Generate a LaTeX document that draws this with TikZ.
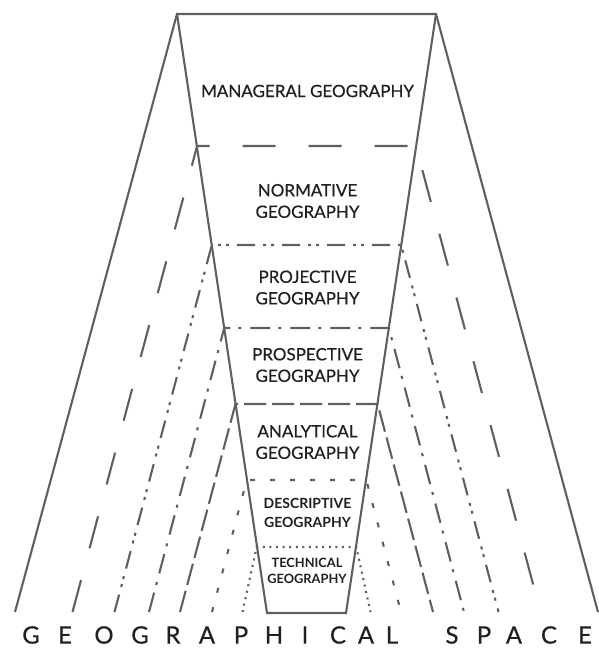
\documentclass[tikz,border=0pt]{standalone}
\usepackage{fontspec}
\setmainfont{Lato}
\newfontfamily\tagfont{Lato}[FakeBold=0.5]
\usepackage{xcolor}
\usetikzlibrary{calc}

\definecolor{linegray}{HTML}{5F5F5F}
\definecolor{textgray}{HTML}{231F20}

\tikzset{
	level/.style={draw=linegray, line width=2.1pt, line join=miter},
	managerial/.style={level},
	normative/.style={level, dash pattern=on 33pt off 33pt},
	projective/.style={level, dash pattern=on 18pt off 8pt on 3pt off 5pt on 3pt off 8pt},
	prospective/.style={level, dash pattern=on 20pt off 8pt on 3pt off 9pt},
	analytical/.style={level, dash pattern=on 22pt off 6pt},
	descriptive/.style={level, dash pattern=on 5pt off 15pt},
	technical/.style={level, dash pattern=on 2pt off 4.6pt},
	tag/.style={text=textgray, align=center, font=\tagfont\fontsize{17}{21.5}\selectfont, inner sep=0pt},
	smalltag/.style={tag, font=\bfseries\fontsize{14}{19.5}\selectfont},
	letter/.style={text=textgray, font=\tagfont\fontsize{24}{24}\selectfont, inner sep=0pt, anchor=center}
}

\begin{document}
\begin{tikzpicture}[x=1pt, y=-1pt]
	\useasboundingbox (0,0) rectangle (599,648);

	%%% EMBUDO
	\coordinate (tl) at (177,14);
	\coordinate (tr) at (436,14);
	\coordinate (bl) at (267,613);
	\coordinate (br) at (346,613);
	\coordinate (ol) at (15,612);
	\coordinate (or) at (598,612);
	\draw[managerial] (ol) -- (tl) -- (tr) -- (or);
	\draw[managerial] (tl) -- (bl) -- (br) -- (tr);

	%%% NIVELES
	\coordinate (n-l) at (197.1,146);  \coordinate (n-r) at (415.9,146);
	\coordinate (n-bl) at (72.5,612);  \coordinate (n-br) at (540.5,612);
	\coordinate (p-l) at (211.8,245);  \coordinate (p-r) at (401.2,245);
	\coordinate (p-bl) at (114.5,612); \coordinate (p-br) at (498.5,612);
	\coordinate (s-l) at (224.2,328);  \coordinate (s-r) at (388.9,328);
	\coordinate (s-bl) at (149,612);   \coordinate (s-br) at (464,612);
	\coordinate (a-l) at (235.5,404);  \coordinate (a-r) at (377.6,404);
	\coordinate (a-bl) at (180,612);   \coordinate (a-br) at (433,612);
	\coordinate (d-l) at (246.7,480);  \coordinate (d-r) at (366.3,480);
	\coordinate (d-bl) at (212,612);   \coordinate (d-br) at (401,612);
	\coordinate (t-l) at (256.7,547);  \coordinate (t-r) at (356.3,547);
	\coordinate (t-bl) at (242.5,612); \coordinate (t-br) at (370.5,612);

	\draw[normative] (n-bl) -- (n-l) -- (n-r) -- (n-br);
	\draw[projective] (p-bl) -- (p-l) -- (p-r) -- (p-br);
	\draw[prospective] (s-bl) -- (s-l) -- (s-r) -- (s-br);
	\draw[analytical] (a-bl) -- (a-l) -- (a-r) -- (a-br);
	\draw[descriptive] (d-bl) -- (d-l) -- (d-r) -- (d-br);
	\draw[technical] (t-bl) -- (t-l) -- (t-r) -- (t-br);

	%%% ETIQUETAS
	\node[tag] (managerialtag) at (307.5,91) {MANAGERAL GEOGRAPHY};
	\node[tag] (normativetag) at (307.5,201) {NORMATIVE\\GEOGRAPHY};
	\node[tag] (projectivetag) at (307.5,287.5) {PROJECTIVE\\GEOGRAPHY};
	\node[tag] (prospectivetag) at (307.5,365) {PROSPECTIVE\\GEOGRAPHY};
	\node[tag] (analyticaltag) at (307.5,442) {ANALYTICAL\\GEOGRAPHY};
	\node[smalltag] (descriptivetag) at (307.5,513) {DESCRIPTIVE\\GEOGRAPHY};
	\node[smalltag, font=\bfseries\fontsize{12.8}{16.5}\selectfont] (technicaltag) at (307,571) {TECHNICAL\\GEOGRAPHY};

	%%% ESPACIO
	\foreach \c/\x [count=\i] in {G/31, E/65, O/104, G/140, R/173, A/207, P/241, H/274, I/305, C/338, A/366, L/392, S/452, P/484, A/514, C/549, E/585}
		\node[letter] (space\i) at (\x,635) {\c};
\end{tikzpicture}
\end{document}
